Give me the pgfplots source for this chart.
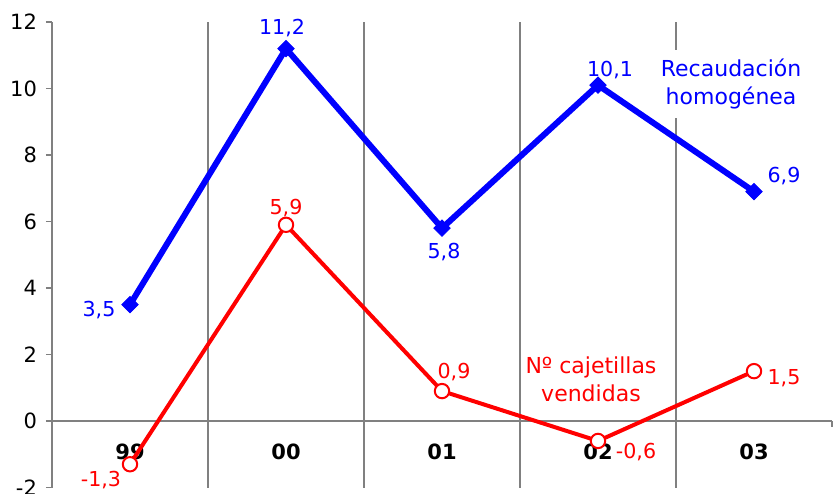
\documentclass[border=0pt]{standalone}
\usepackage{fontspec}
\setmainfont{DejaVu Sans}
\usepackage{pgfplots}
\pgfplotsset{compat=1.18}
\definecolor{gridgray}{RGB}{128,128,128}
\tikzset{lbl/.style={font=\fontsize{10.3}{12}\selectfont, inner sep=0pt, anchor=center}}
\begin{document}
\begin{tikzpicture}
\begin{axis}[
  at={(0,0)}, anchor=south west,
  scale only axis, width=390pt, height=232.75pt,
  xmin=-0.5, xmax=4.5, ymin=-2, ymax=12,
  axis x line=middle, axis y line=left,
  every outer x axis line/.append style={-}, every inner x axis line/.append style={-},
  every outer y axis line/.append style={-}, every inner y axis line/.append style={-},
  axis line style={draw=gridgray, line width=0.6pt},
  xtick={0,1,2,3,4}, xticklabels={99,00,01,02,03},
  x tick style={draw=none},
  x tick label style={font=\fontsize{10.5}{12}\selectfont\bfseries, anchor=center, yshift=-12.5pt},
  minor xtick={0.5,1.5,2.5,3.5}, xminorgrids,
  minor x tick style={draw=none},
  minor x grid style={draw=gridgray, line width=0.6pt},
  ytick={-2,0,2,4,6,8,10,12},
  tick align=outside, major tick length=3pt,
  y tick style={draw=gridgray, line width=0.6pt},
  y tick label style={font=\fontsize{10.5}{12}\selectfont, xshift=-1pt},
  /pgf/number format/assume math mode=true,
  clip=false,
]
\addplot[blue, line width=3pt, mark=square*, mark size=2.9pt,
  mark options={solid, fill=blue, draw=blue, line width=0.4pt, rotate=45}]
  coordinates {(0,3.5) (1,11.2) (2,5.8) (3,10.1) (4,6.9)};
\addplot[red, line width=2pt, mark=*, mark size=3.6pt,
  mark options={solid, fill=white, draw=red, line width=1pt}]
  coordinates {(0,-1.3) (1,5.9) (2,0.9) (3,-0.6) (4,1.5)};
% boundary ticks on the zero line
\pgfplotsinvokeforeach{-0.5,0.5,1.5,2.5,3.5,4.5}{
  \draw[gridgray, line width=0.6pt] (axis cs:#1,0) -- (axis cs:#1,-0.18);
}
% data labels
\node[lbl, text=blue, xshift=-15.5pt, yshift=-2.7pt] at (axis cs:0,3.5) {3,5};
\node[lbl, text=blue, xshift=-2pt, yshift=10.3pt] at (axis cs:1,11.2) {11,2};
\node[lbl, text=blue, xshift=1pt, yshift=-12pt] at (axis cs:2,5.8) {5,8};
\node[lbl, text=blue, xshift=6pt, yshift=7.5pt] at (axis cs:3,10.1) {10,1};
\node[lbl, text=blue, xshift=15pt, yshift=7.8pt] at (axis cs:4,6.9) {6,9};
\node[lbl, text=red, xshift=-14.5pt, yshift=-8pt] at (axis cs:0,-1.3) {-1,3};
\node[lbl, text=red, xshift=0pt, yshift=8.5pt] at (axis cs:1,5.9) {5,9};
\node[lbl, text=red, xshift=6pt, yshift=9.5pt] at (axis cs:2,0.9) {0,9};
\node[lbl, text=red, xshift=19pt, yshift=-5.5pt] at (axis cs:3,-0.6) {-0,6};
\node[lbl, text=red, xshift=15pt, yshift=-3.5pt] at (axis cs:4,1.5) {1,5};
% series labels
\node[fill=white, inner xsep=2pt, inner ysep=4.5pt, align=center, text=blue,
  font=\fontsize{11}{14}\selectfont] at (axis cs:3.853,10.135) {Recaudación\\homogénea};
\node[fill=white, inner xsep=2pt, inner ysep=4.5pt, align=center, text=red,
  font=\fontsize{11}{14}\selectfont] at (axis cs:2.955,1.263) {Nº cajetillas\\vendidas};
\end{axis}
\pgfresetboundingbox
\path[use as bounding box] (-26pt,-2.75pt) rectangle (390.5pt,243.75pt);
\end{tikzpicture}
\end{document}
